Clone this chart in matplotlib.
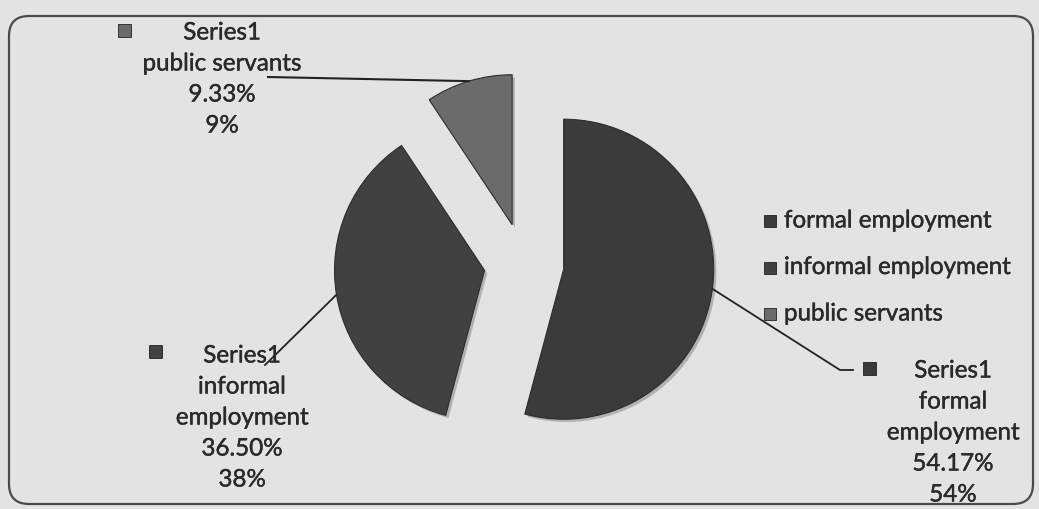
import numpy as np
import matplotlib.pyplot as plt
from matplotlib.patches import FancyBboxPatch, Rectangle
import matplotlib.patheffects as pe

plt.rcParams['font.family'] = ['Lato', 'DejaVu Sans']

# employment split
categories = ['formal employment', 'informal employment', 'public servants']
shares = [54.17, 36.50, 9.33]
shown_pct = ['54%', '38%', '9%']
series_name = 'Series1'

slice_colors = ['#3b3b3b', '#414141', '#6b6b6b']
text_color = '#2a2a2a'

W, H = 1039, 510
fig = plt.figure(figsize=(W / 100, H / 100), dpi=100)
fig.patch.set_facecolor('#e3e3e3')
ax = fig.add_axes([0, 0, 1, 1])


def Y(y):
    # page coordinates run downwards
    return H - y


radius = 150
wedges, _ = ax.pie(shares, colors=slice_colors, startangle=90, counterclock=False,
                   explode=[40, 40, 41], radius=radius, center=(524, Y(265)),
                   wedgeprops=dict(edgecolor='#2c2c2c', linewidth=0.8))
for w in wedges:
    w.set_path_effects([pe.SimplePatchShadow(offset=(2, -2), alpha=0.35, shadow_rgbFace='#555555'),
                        pe.Normal()])

ax.set_xlim(0, W)
ax.set_ylim(0, H)
ax.set_aspect('equal')
ax.axis('off')

# chart frame
ax.add_patch(FancyBboxPatch((9, Y(505)), 1024, 488,
                            boxstyle='round,pad=0,rounding_size=20',
                            facecolor='none', edgecolor='#4a4a4a', linewidth=1.6, zorder=0))


def rim_point(w):
    mid = np.deg2rad((w.theta1 + w.theta2) / 2)
    cx, cy = w.center
    return cx + w.r * np.cos(mid), cy + w.r * np.sin(mid)


def square(x, y, color, size=13):
    ax.add_patch(Rectangle((x - size / 2, Y(y) - size / 2), size, size,
                           facecolor=color, edgecolor='#222222', linewidth=0.6, zorder=3))


fs = 17.4
step = 31
thick = [pe.withStroke(linewidth=0.3, foreground=text_color)]

# data labels: (text centre x, first line y, marker x, marker y)
label_pos = [(953, 372, 869, 369), (242, 357, 155, 352), (222, 34, 124, 31)]
for i, (tx, ty, mx, my) in enumerate(label_pos):
    name = categories[i]
    if i < 2:
        words = name.split(' ')
        lines = [series_name] + words + [f'{shares[i]:.2f}%', shown_pct[i]]
    else:
        lines = [series_name, name, f'{shares[i]:.2f}%', shown_pct[i]]
    for k, s in enumerate(lines):
        ax.text(tx, Y(ty + k * step), s, ha='center', va='center',
                fontsize=fs, color=text_color, path_effects=thick)
    square(mx, my, slice_colors[i])

# leader lines
px, py = rim_point(wedges[0])
ax.plot([px, 840, 853], [py, Y(371), Y(371)], color='#222222', lw=1.3)
px, py = rim_point(wedges[1])
ax.plot([px, 265], [py, Y(366)], color='#222222', lw=1.3)
px, py = rim_point(wedges[2])
ax.plot([px, 268], [py, Y(78)], color='#222222', lw=1.5)

# legend
for i, name in enumerate(categories):
    ly = 222 + i * 46.5
    square(770, ly, slice_colors[i], size=12)
    ax.text(784, Y(ly), name, ha='left', va='center', fontsize=fs,
            color=text_color, path_effects=thick)

fig.savefig('out.png', dpi=100, facecolor=fig.get_facecolor())
